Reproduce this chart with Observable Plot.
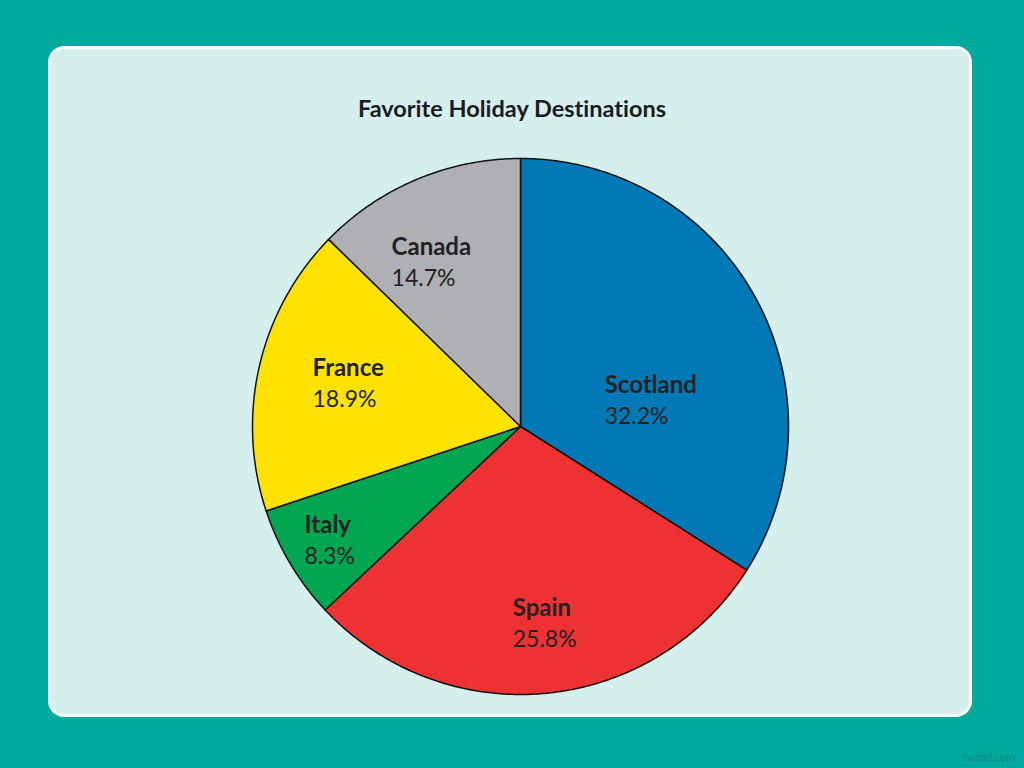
<!DOCTYPE html>
<html>
<head>
<meta charset="utf-8">
<script src="https://cdn.jsdelivr.net/npm/d3@7"></script>
<script src="https://cdn.jsdelivr.net/npm/@observablehq/plot@0.6"></script>
<style>
  html, body { margin: 0; padding: 0; }
  body { width: 1024px; height: 768px; background: #00A99D; position: relative; overflow: hidden; font-family: Lato, "Open Sans", sans-serif; font-variant-ligatures: none; }
  #panel { position: absolute; left: 48px; top: 46px; width: 918px; height: 665px; background: #D5EFED; border: 3px solid #F4FBFA; border-radius: 16px; }
  #title { position: absolute; left: 2px; top: 46px; width: 100%; text-align: center; font-size: 23.5px; line-height: 26px; font-weight: 700; color: #1c1c1c; }
  #chart { position: absolute; left: 0; top: 95px; }
  #chart svg text { font-variant-ligatures: none; }
  #brand { position: absolute; right: 9px; bottom: 5px; font-size: 11px; color: #0f8c82; font-family: Lato, sans-serif; }
</style>
</head>
<body>
<div id="panel">
  <div id="title">Favorite Holiday Destinations</div>
  <div id="chart"></div>
</div>
<div id="brand">twinkl.com</div>
<script>
// ---- data ----
const destinations = ["Scotland", "Spain", "Italy", "France", "Canada"];
// percentages printed on the labels
const labelShares = [32.2, 25.8, 8.3, 18.9, 14.7];
// angular size of each drawn slice (percent of circle)
const sliceShares = [34.0, 29.0, 6.9, 17.4, 12.7];
const sliceColors = ["#0079B6", "#EE3233", "#00A651", "#FFE200", "#AEB0B3"];

// ---- layout (label anchors in pie-radius units, left edge / first line) ----
const labelAnchors = {
  Scotland: [0.314, 0.153],
  Spain: [-0.029, -0.679],
  Italy: [-0.806, -0.369],
  France: [-0.776, 0.216],
  Canada: [-0.481, 0.668]
};

const W = 918, H = 560, R = 268, cx = 469, cy = 282;

const pie = d3.pie().sort(null).value(d => d.size);
const rows = destinations.map((name, i) => ({name, size: sliceShares[i], label: labelShares[i]}));
const arcs = pie(rows);

// polygon points for each slice
const pts = [];
for (const a of arcs) {
  const name = a.data.name;
  pts.push({name, x: 0, y: 0});
  const steps = Math.max(2, Math.ceil((a.endAngle - a.startAngle) / (Math.PI / 360)));
  for (let k = 0; k <= steps; k++) {
    const t = a.startAngle + (a.endAngle - a.startAngle) * k / steps;
    pts.push({name, x: Math.sin(t), y: Math.cos(t)});
  }
  pts.push({name, x: 0, y: 0});
}

const labels = rows.map(d => ({
  name: d.name,
  value: d.label.toFixed(1) + "%",
  x: labelAnchors[d.name][0],
  y: labelAnchors[d.name][1]
}));

const plot = Plot.plot({
  width: W,
  height: H,
  margin: 0,
  x: {domain: [-cx / R, (W - cx) / R], range: [0, W], axis: null},
  y: {domain: [-(H - cy) / R, cy / R], range: [H, 0], axis: null},
  color: {domain: destinations, range: sliceColors},
  style: {background: "transparent", fontFamily: "Lato, 'Open Sans', sans-serif"},
  marks: [
    Plot.line(pts, {x: "x", y: "y", z: "name", fill: "name", stroke: "#111", strokeWidth: 1.5, strokeLinejoin: "round"}),
    Plot.text(labels, {x: "x", y: "y", text: "name", textAnchor: "start", fontSize: 24, fontWeight: 700, fill: "#222"}),
    Plot.text(labels, {x: "x", y: "y", text: "value", textAnchor: "start", fontSize: 23, dy: 31, fill: "#222"})
  ]
});
document.getElementById("chart").appendChild(plot);
</script>
</body>
</html>
